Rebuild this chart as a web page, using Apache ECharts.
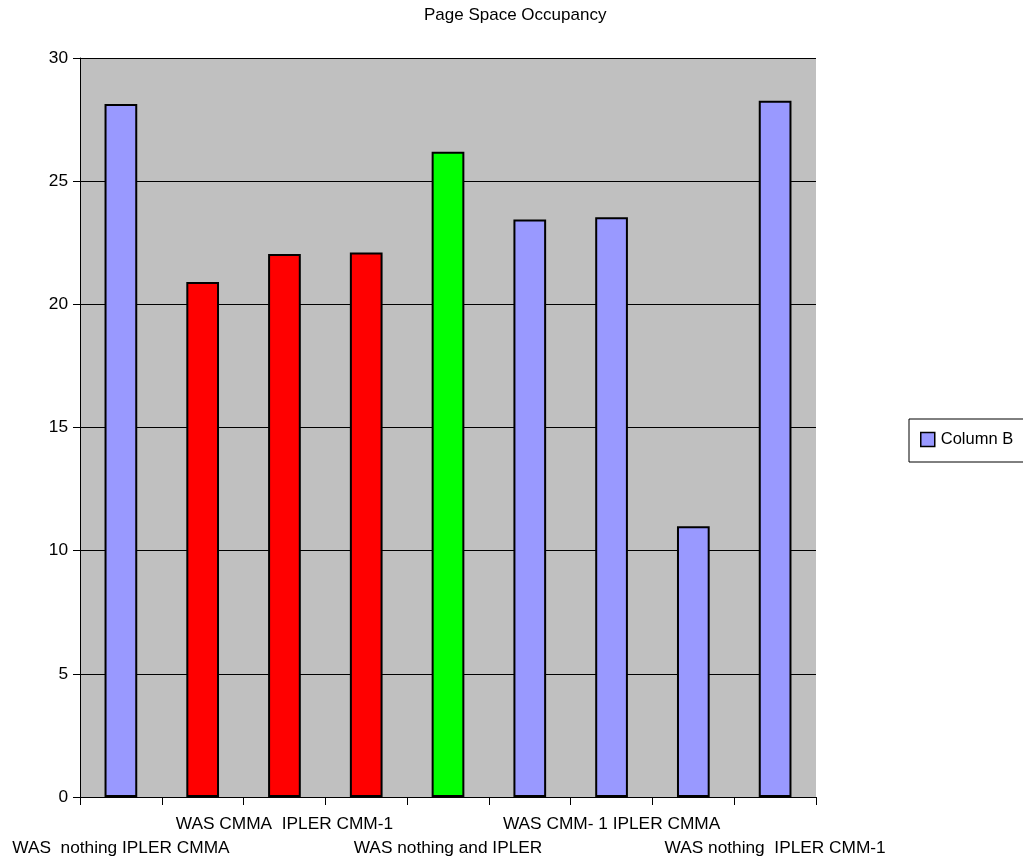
<!DOCTYPE html>
<html>
<head>
<meta charset="utf-8">
<title>Page Space Occupancy</title>
<script src="https://cdn.jsdelivr.net/npm/echarts@6/dist/echarts.min.js"></script>
<style>
  html, body { margin: 0; padding: 0; background: #ffffff; }
  #chart { width: 1023px; height: 861px; }
</style>
</head>
<body>
<div id="chart"></div>
<script>
// Configuration names (only every second one is printed on the axis)
var categories = [
  'WAS  nothing IPLER CMMA',
  'WAS CMMA IPLER nothing',
  'WAS CMMA  IPLER CMM-1',
  'WAS CMMA IPLER CMMA',
  'WAS nothing and IPLER',
  'WAS CMM-1 IPLER nothing',
  'WAS CMM- 1 IPLER CMMA',
  'WAS CMM-1 IPLER CMM-1',
  'WAS nothing  IPLER CMM-1'
];
// Column B values
var columnB = [28.13, 20.91, 22.04, 22.10, 26.19, 23.44, 23.54, 10.99, 28.26];
// Highlight colour per bar
var barColors = ['#9999FF', '#FF0000', '#FF0000', '#FF0000', '#00FF00', '#9999FF', '#9999FF', '#9999FF', '#9999FF'];
var seriesName = 'Column B';
var yTicks = { min: 0, max: 30, step: 5 };

var labelFont = '"Liberation Sans", Arial, sans-serif';

var chart = echarts.init(document.getElementById('chart'), null, { renderer: 'canvas' });

var barData = columnB.map(function (v, i) {
  return { value: v, itemStyle: { color: barColors[i] } };
});

var labelStyle = {
  color: '#000000',
  fontFamily: labelFont,
  fontSize: 17.3,
  hideOverlap: false
};

chart.setOption({
  backgroundColor: '#ffffff',
  animation: false,
  title: {
    text: 'Page Space Occupancy',
    left: 419,
    top: 2,
    textStyle: {
      fontFamily: labelFont,
      fontSize: 17,
      fontWeight: 'normal',
      color: '#000000'
    }
  },
  legend: {
    data: [seriesName],
    left: 909,
    top: 419,
    orient: 'vertical',
    padding: [12, 12, 14, 11],
    borderColor: '#000000',
    borderWidth: 1,
    itemWidth: 14,
    itemHeight: 14,
    icon: 'rect',
    itemStyle: { color: '#9999FF', borderColor: '#000000', borderWidth: 1.5 },
    textStyle: { fontFamily: labelFont, fontSize: 16.5, color: '#000000', padding: [0, 0, 0, 1] }
  },
  grid: {
    left: 80,
    right: 207,
    top: 58,
    bottom: 64,
    show: true,
    backgroundColor: '#C0C0C0',
    borderWidth: 0
  },
  xAxis: [{
    // main category axis: line, ticks and the upper row of names
    type: 'category',
    data: categories,
    position: 'bottom',
    boundaryGap: true,
    axisLine: { show: true, lineStyle: { color: '#000000', width: 1 } },
    axisTick: { show: true, interval: 0, length: 8, lineStyle: { color: '#000000' } },
    axisLabel: Object.assign({
      margin: 19,
      interval: function (index) { return index % 4 === 2; }
    }, labelStyle),
    splitLine: { show: false }
  }, {
    // lower row of names
    type: 'category',
    data: categories,
    position: 'bottom',
    boundaryGap: true,
    axisLine: { show: false },
    axisTick: { show: false },
    axisLabel: Object.assign({
      margin: 43,
      interval: function (index) { return index % 4 === 0; }
    }, labelStyle),
    splitLine: { show: false }
  }],
  yAxis: {
    type: 'value',
    min: yTicks.min,
    max: yTicks.max,
    interval: yTicks.step,
    axisLine: { show: true, lineStyle: { color: '#000000', width: 1 } },
    axisTick: { show: true, length: 7, lineStyle: { color: '#000000' } },
    axisLabel: {
      margin: 12,
      color: '#000000',
      fontFamily: labelFont,
      fontSize: 17.3
    },
    splitLine: { show: true, lineStyle: { color: '#000000', width: 1 } }
  },
  series: [{
    name: seriesName,
    type: 'bar',
    xAxisIndex: 0,
    data: barData,
    barWidth: '40%',
    itemStyle: { color: '#9999FF', borderColor: '#000000', borderWidth: 2 }
  }]
});
</script>
</body>
</html>
